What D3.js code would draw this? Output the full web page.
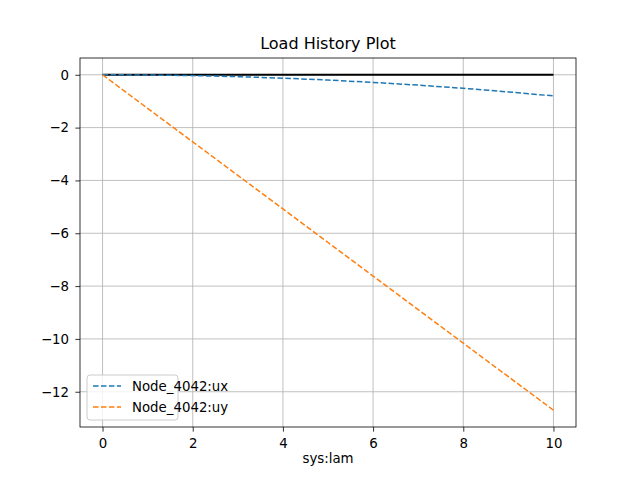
<!DOCTYPE html>
<html><head><meta charset="utf-8">
<script src="https://cdn.jsdelivr.net/npm/d3@7"></script>
<style>body{margin:0;background:#fff}svg{display:block}text{font-family:"DejaVu Sans",sans-serif}</style>
</head><body><svg id="c" width="640" height="480"></svg>
<script>
const lam = [0,1,2,3,4,5,6,7,8,9,10];
const ux = [0,-0.008,-0.032,-0.072,-0.128,-0.2,-0.288,-0.392,-0.512,-0.648,-0.8];
const uy = [0,-1.27,-2.54,-3.81,-5.08,-6.35,-7.62,-8.89,-10.16,-11.43,-12.7];
const zeroLine = [0,0];
const zeroX = [0,10];
const xTicks = [0,2,4,6,8,10];
const yTicks = [0,-2,-4,-6,-8,-10,-12];
const seriesNames = ["Node_4042:ux","Node_4042:uy"];
const colors = ["#1f77b4","#ff7f0e"];

const svg = d3.select("#c");
const L=80,R=576,T=58,B=427;
const x = d3.scaleLinear().domain([-0.5,10.5]).range([L,R]);
const y = d3.scaleLinear().domain([-13.335,0.635]).range([B,T]);

// grid
svg.append("g").selectAll("line").data(xTicks).join("line")
 .attr("x1",d=>x(d)).attr("x2",d=>x(d)).attr("y1",T).attr("y2",B)
 .attr("stroke","#b0b0b0").attr("stroke-width",0.8);
svg.append("g").selectAll("line").data(yTicks).join("line")
 .attr("y1",d=>y(d)).attr("y2",d=>y(d)).attr("x1",L).attr("x2",R)
 .attr("stroke","#b0b0b0").attr("stroke-width",0.8);

const line = d3.line().x(d=>x(d[0])).y(d=>y(d[1]));
svg.append("path").datum(zeroX.map((v,i)=>[v,zeroLine[i]])).attr("d",line)
 .attr("fill","none").attr("stroke","#000").attr("stroke-width",2);
[ux,uy].forEach((s,i)=>{
 svg.append("path").datum(lam.map((v,j)=>[v,s[j]])).attr("d",line)
  .attr("fill","none").attr("stroke",colors[i]).attr("stroke-width",1.5)
  .attr("stroke-dasharray","5.55,2.4");
});

// axes
const xa = svg.append("g").attr("transform",`translate(0,${B})`).call(d3.axisBottom(x).tickValues(xTicks).tickSize(4.67).tickPadding(7.3).tickFormat(d3.format("d")));
const ya = svg.append("g").attr("transform",`translate(${L},0)`).call(d3.axisLeft(y).tickValues(yTicks).tickSize(4.67).tickPadding(6.3).tickFormat(d=>d<0?"\u2212"+Math.abs(d):d));
[xa,ya].forEach(a=>{a.select(".domain").remove();a.selectAll("text").attr("font-size",13.33).attr("fill","#000").style("font-family","DejaVu Sans");a.selectAll("line").attr("stroke","#000").attr("stroke-width",0.8);});
svg.append("rect").attr("x",L).attr("y",T).attr("width",R-L).attr("height",B-T).attr("fill","none").attr("stroke","#000").attr("stroke-width",0.8);

svg.append("text").attr("x",(L+R)/2).attr("y",T-9).attr("text-anchor","middle").attr("font-size",16).text("Load History Plot");
svg.append("text").attr("x",(L+R)/2).attr("y",463).attr("text-anchor","middle").attr("font-size",13.33).text("sys:lam");

// legend
const lg = svg.append("g");
lg.append("rect").attr("x",87).attr("y",375).attr("width",91).attr("height",45).attr("rx",3)
 .attr("fill","#fff").attr("fill-opacity",0.8).attr("stroke","#cccccc").attr("stroke-width",1);
seriesNames.forEach((n,i)=>{
 const yy = 386+i*21;
 lg.append("line").attr("x1",93).attr("x2",121).attr("y1",yy).attr("y2",yy)
  .attr("stroke",colors[i]).attr("stroke-width",1.5).attr("stroke-dasharray","5.55,2.4");
 lg.append("text").attr("x",132).attr("y",yy+4.8).attr("font-size",13.33).text(n);
});
</script></body></html>
